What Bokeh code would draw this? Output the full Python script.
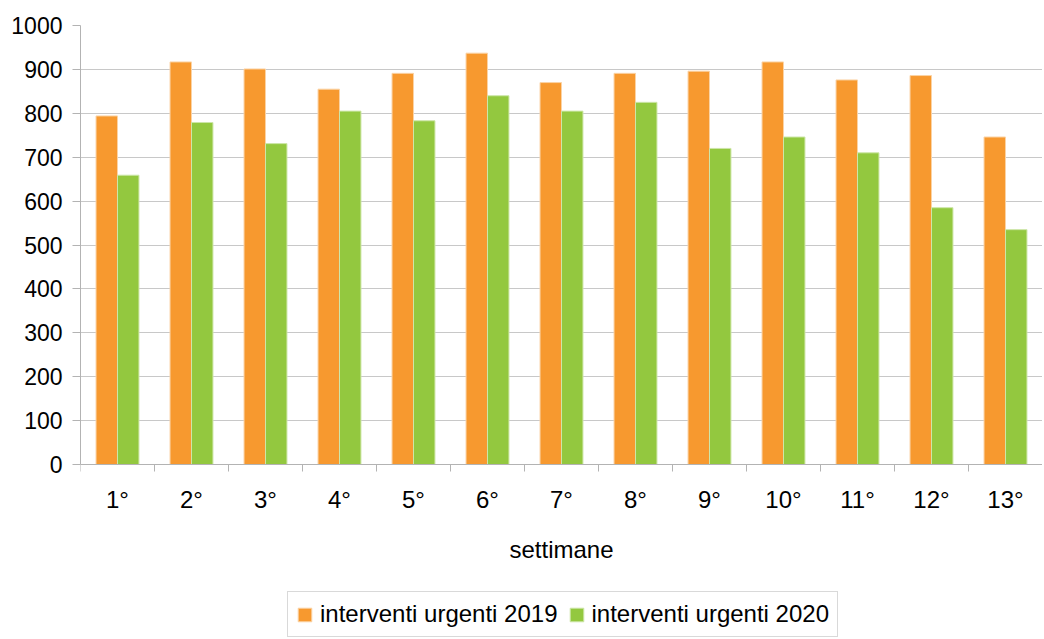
from bokeh.plotting import figure
from bokeh.models import ColumnDataSource, FixedTicker, Legend, LegendItem, Range1d
from bokeh.transform import dodge
from bokeh.embed import file_html
from bokeh.resources import INLINE

weeks = ["1°", "2°", "3°", "4°", "5°", "6°", "7°", "8°", "9°", "10°", "11°", "12°", "13°"]
urgent_2019 = [794, 917, 901, 855, 891, 937, 870, 891, 896, 917, 876, 886, 746]
urgent_2020 = [659, 779, 731, 805, 783, 840, 805, 825, 720, 746, 710, 585, 535]
y_ticks = [0, 100, 200, 300, 400, 500, 600, 700, 800, 900, 1000]
series_names = ["interventi urgenti 2019", "interventi urgenti 2020"]
x_title = "settimane"

FONT = "Liberation Sans"
ORANGE = "#F7992F"
GREEN = "#93C83F"

xpos = list(range(1, len(weeks) + 1))
src = ColumnDataSource(dict(x=xpos, a=urgent_2019, b=urgent_2020))

# frame extends below the value axis to leave room for labels and legend
p = figure(frame_width=962, frame_height=612, output_backend="svg", toolbar_location=None,
           x_range=Range1d(0.5, len(weeks) + 0.5), y_range=Range1d(-394, 1000),
           min_border_left=80, min_border_top=25, min_border_right=0, min_border_bottom=0)
p.outline_line_color = None
p.background_fill_color = "white"
p.border_fill_color = "white"

r1 = p.vbar(x=dodge("x", -0.145, range=p.x_range), top="a", width=0.29, source=src,
            fill_color=ORANGE, line_color="#FBD3A5", line_width=1)
r2 = p.vbar(x=dodge("x", 0.145, range=p.x_range), top="b", width=0.29, source=src,
            fill_color=GREEN, line_color="#CDE6A8", line_width=1)

# y axis
p.yaxis.ticker = FixedTicker(ticks=y_ticks)
p.yaxis.bounds = (y_ticks[0], y_ticks[-1])
p.yaxis.axis_line_color = "#B3B3B3"
p.yaxis.major_tick_line_color = "#B3B3B3"
p.yaxis.major_tick_out = 8
p.yaxis.major_tick_in = 0
p.yaxis.minor_tick_line_color = None
p.yaxis.major_label_text_font = FONT
p.yaxis.major_label_text_font_size = "23px"
p.yaxis.major_label_text_color = "black"
p.yaxis.major_label_standoff = 10

# x axis, pinned at value 0
bounds = [i - 0.5 for i in xpos] + [xpos[-1] + 0.5]
p.xaxis.fixed_location = 0
p.xaxis.ticker = FixedTicker(ticks=xpos, minor_ticks=bounds)
p.xaxis.major_label_overrides = {i: w for i, w in zip(xpos, weeks)}
p.xaxis.axis_line_color = "#B3B3B3"
p.xaxis.major_tick_line_color = None
p.xaxis.major_tick_out = 7
p.xaxis.major_tick_in = 0
p.xaxis.minor_tick_line_color = "#B3B3B3"
p.xaxis.minor_tick_out = 7
p.xaxis.minor_tick_in = 0
p.xaxis.major_label_text_font = FONT
p.xaxis.major_label_text_font_size = "24px"
p.xaxis.major_label_text_color = "black"
p.xaxis.major_label_standoff = 14
p.xaxis.axis_label = x_title
p.xaxis.axis_label_text_font = FONT
p.xaxis.axis_label_text_font_size = "24px"
p.xaxis.axis_label_text_font_style = "normal"
p.xaxis.axis_label_text_color = "black"
p.xaxis.axis_label_standoff = 20

p.xgrid.grid_line_color = None
p.ygrid.ticker = FixedTicker(ticks=y_ticks)
p.ygrid.grid_line_color = "#C8C8C8"
p.ygrid.grid_line_width = 1

legend = Legend(items=[LegendItem(label=series_names[0], renderers=[r1]),
                       LegendItem(label=series_names[1], renderers=[r2])],
                orientation="horizontal", location=(207, 0))
legend.label_text_font = FONT
legend.label_text_font_size = "24px"
legend.label_text_color = "black"
legend.glyph_width = 17
legend.glyph_height = 17
legend.label_standoff = 7
legend.label_height = 17
legend.spacing = 10
legend.padding = 8
legend.margin = 0
legend.border_line_color = "#B3B3B3"
legend.border_line_width = 1
legend.background_fill_color = "white"
p.add_layout(legend)

open("out.html", "w").write(file_html(p, INLINE))
